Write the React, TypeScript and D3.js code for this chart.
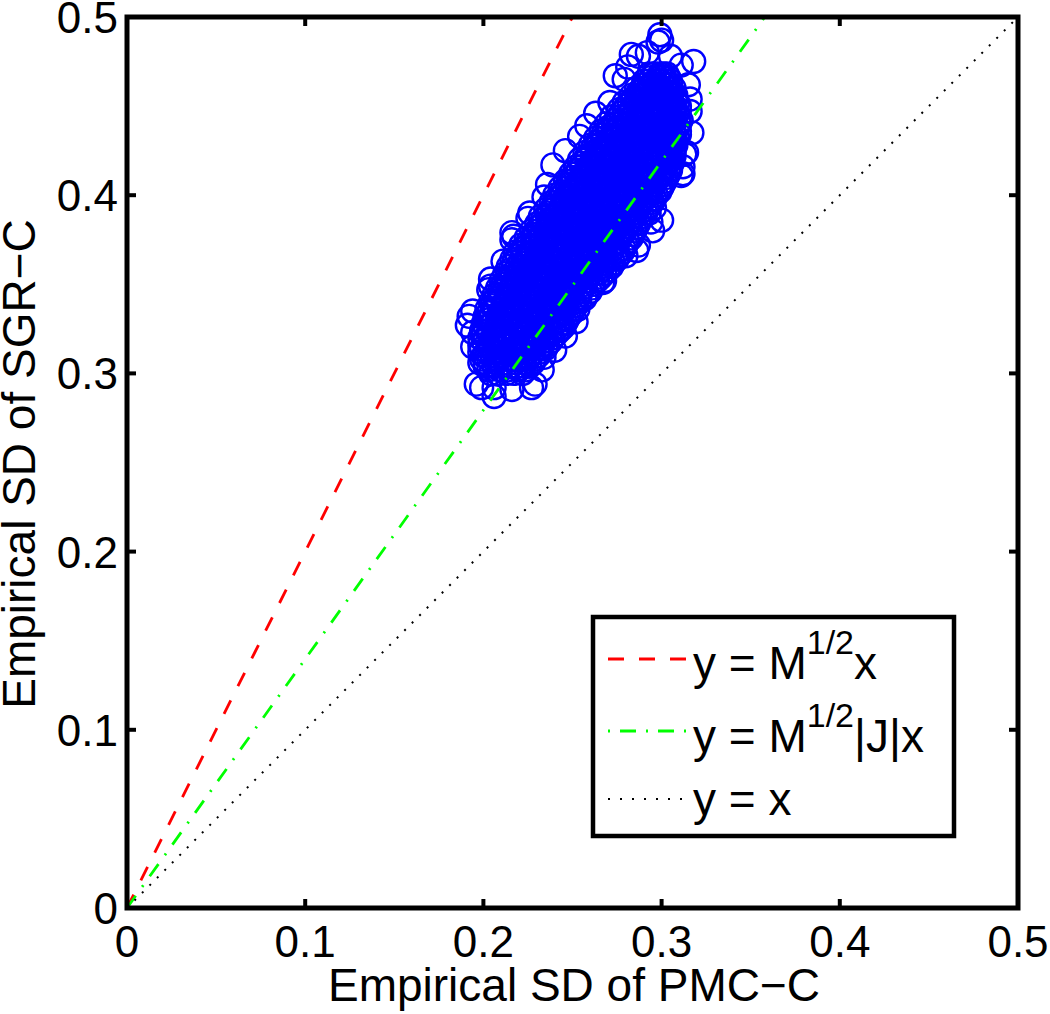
import React from "react";
import * as d3 from "d3";

const xTicks = [0, 0.1, 0.2, 0.3, 0.4, 0.5];
const yTicks = [0, 0.1, 0.2, 0.3, 0.4, 0.5];
const xLabel = "Empirical SD of PMC\u2212C";
const yLabel = "Empirical SD of SGR\u2212C";

const lineDomain = [0, 0.5];
const redSlope = 2.0;
const greenSlope = 1.397;
const blackSlope = 1.0;

// Outer, individually visible samples [PMC-C, SGR-C]
const edgePoints: [number, number][] = [
  [.299,.490],[.300,.487],[.298,.486],[.283,.479],[.287,.478],[.274,.467],[.281,.472],[.318,.475],[.311,.473],[.292,.480],[.305,.478],[.279,.465],
  [.271,.452],[.263,.446],[.258,.439],[.254,.433],[.246,.425],[.239,.417],[.236,.406],[.234,.399],[.226,.390],[.225,.387],[.217,.377],[.216,.375],
  [.211,.363],[.204,.353],[.204,.349],[.203,.347],[.194,.335],[.192,.332],[.191,.327],[.194,.323],[.194,.315],[.198,.306],[.196,.294],[.199,.292],
  [.206,.292],[.206,.287],[.315,.462],[.316,.454],[.316,.447],[.317,.435],[.314,.424],[.313,.423],[.312,.412],[.311,.411],[.299,.403],[.296,.393],
  [.294,.385],[.287,.372],[.286,.369],[.275,.365],[.268,.352],[.267,.351],[.253,.336],[.246,.321],[.234,.309],[.227,.292],[.216,.291],
  [.216,.379],[.312,.416],[.240,.313],[.229,.294],[.300,.386],[.295,.380],[.293,.390],[.280,.366],[.252,.329],[.233,.302],
];

// Dense core of the cloud, listed row by row: SGR-C of the row, then PMC-C of the samples in it
const coreRowY = [
  .300,.304,.308,.312,.316,.320,.324,.328,.332,.336,.340,.344,.348,.352,.356,.360,.364,.368,.372,.376,.380,.384,
  .388,.392,.396,.400,.404,.408,.412,.416,.420,.424,.428,.432,.436,.440,.444,.448,.452,.456,.460,.464,.468,
];
const coreRowX = [
  [.204,.208,.213,.217,.222],
  [.201,.206,.210,.215,.219,.223,.226],
  [.199,.203,.208,.212,.216,.221,.225,.229],
  [.198,.202,.206,.210,.215,.219,.224,.228,.232],
  [.198,.203,.207,.212,.216,.220,.225,.229,.233,.236],
  [.198,.201,.205,.209,.214,.218,.222,.227,.231,.235,.239],
  [.199,.203,.207,.212,.216,.220,.225,.229,.233,.238,.243],
  [.200,.205,.209,.213,.218,.222,.227,.231,.235,.240,.244,.246],
  [.201,.204,.208,.213,.217,.221,.226,.230,.234,.239,.243,.248],
  [.202,.206,.211,.215,.219,.224,.228,.232,.237,.241,.246,.251],
  [.204,.208,.212,.217,.221,.225,.230,.234,.238,.243,.247,.251,.254],
  [.206,.210,.215,.219,.223,.228,.232,.236,.241,.245,.249,.254,.258],
  [.208,.212,.216,.221,.225,.229,.234,.238,.243,.247,.251,.256,.261],
  [.210,.214,.219,.223,.227,.232,.236,.241,.245,.249,.254,.258,.264],
  [.212,.216,.220,.225,.229,.234,.238,.242,.247,.251,.255,.260,.264,.268],
  [.214,.219,.223,.227,.232,.236,.240,.245,.249,.253,.258,.262,.267,.272],
  [.216,.221,.225,.229,.234,.238,.243,.247,.251,.256,.260,.264,.269,.275],
  [.218,.222,.227,.231,.236,.240,.244,.249,.253,.258,.262,.266,.271,.275,.278],
  [.221,.225,.229,.234,.238,.242,.247,.251,.255,.260,.264,.269,.273,.280],
  [.224,.228,.232,.236,.241,.245,.249,.254,.258,.263,.267,.271,.276,.283],
  [.227,.231,.235,.239,.243,.248,.252,.256,.261,.265,.269,.274,.278,.285],
  [.230,.233,.237,.242,.246,.250,.255,.259,.263,.268,.272,.277,.281,.287],
  [.232,.236,.240,.244,.249,.253,.257,.262,.266,.270,.275,.279,.284,.289],
  [.235,.239,.243,.247,.252,.256,.260,.265,.269,.273,.278,.282,.286,.292],
  [.238,.241,.245,.250,.254,.258,.263,.267,.272,.276,.280,.285,.289,.295],
  [.240,.244,.248,.253,.257,.261,.266,.270,.274,.279,.283,.287,.292,.297],
  [.243,.247,.251,.255,.260,.264,.268,.273,.277,.281,.286,.290,.295,.300],
  [.246,.250,.254,.258,.263,.267,.271,.276,.280,.284,.289,.293,.297,.302],
  [.249,.252,.256,.261,.265,.269,.274,.278,.283,.287,.291,.296,.300,.304],
  [.252,.255,.259,.264,.268,.272,.277,.281,.285,.290,.294,.298,.302,.305],
  [.254,.258,.262,.266,.271,.275,.279,.284,.288,.292,.297,.301,.306],
  [.257,.261,.265,.269,.274,.278,.282,.287,.291,.295,.300,.304,.307],
  [.260,.264,.268,.272,.277,.281,.285,.290,.294,.298,.302,.305,.308],
  [.263,.267,.271,.275,.280,.284,.288,.293,.297,.301,.305,.309],
  [.266,.270,.274,.278,.283,.287,.291,.296,.300,.304,.307,.310],
  [.269,.273,.277,.281,.286,.290,.294,.299,.303,.306,.310],
  [.272,.276,.280,.284,.289,.293,.297,.301,.305,.308,.310],
  [.276,.279,.283,.287,.292,.296,.300,.304,.307,.310],
  [.279,.282,.286,.291,.295,.299,.303,.306,.309],
  [.283,.286,.290,.294,.298,.302,.305,.308],
  [.286,.289,.293,.297,.300,.304,.307],
  [.290,.293,.296,.300,.303,.305],
  [.293,.296,.299,.301,.303],
];

// Samples read between those rows
const midRowY = [
  .302,.306,.310,.314,.318,.322,.326,.330,.334,.338,.342,.346,.350,.354,.358,.362,.366,.370,.374,.378,.382,
  .386,.390,.394,.398,.402,.406,.410,.414,.418,.422,.426,.430,.434,.438,.442,.446,.450,.454,.458,.462,.466,
];
const midRowX = [
  [.203,.209,.214,.220,.224],
  [.201,.207,.212,.218,.223,.228],
  [.200,.205,.211,.217,.222,.227,.231],
  [.199,.204,.210,.216,.221,.227,.232,.235],
  [.200,.206,.211,.217,.223,.228,.234,.238],
  [.200,.206,.212,.218,.223,.229,.235,.241],
  [.201,.207,.213,.219,.224,.230,.236,.242,.245],
  [.202,.208,.214,.220,.225,.231,.237,.243,.247],
  [.203,.209,.215,.220,.226,.232,.238,.244,.250],
  [.205,.211,.216,.222,.228,.234,.240,.245,.252],
  [.207,.213,.218,.224,.230,.236,.242,.247,.253,.257],
  [.209,.214,.220,.226,.232,.238,.243,.249,.255,.260],
  [.211,.216,.222,.228,.234,.239,.245,.251,.257,.262],
  [.213,.218,.224,.230,.235,.241,.247,.253,.259,.266],
  [.215,.220,.226,.232,.237,.243,.249,.255,.261,.266,.270],
  [.217,.222,.228,.234,.240,.246,.251,.257,.263,.268,.273],
  [.219,.225,.230,.236,.242,.248,.254,.259,.265,.271,.276],
  [.222,.227,.233,.239,.245,.250,.256,.262,.267,.273,.279],
  [.225,.230,.236,.242,.247,.253,.259,.264,.270,.276,.281],
  [.228,.233,.239,.245,.250,.256,.261,.267,.273,.278,.284],
  [.231,.236,.241,.247,.253,.258,.264,.270,.275,.281,.286],
  [.233,.239,.244,.250,.255,.261,.267,.272,.278,.283,.288],
  [.236,.241,.247,.253,.258,.264,.269,.275,.281,.286,.291],
  [.239,.244,.250,.255,.261,.266,.272,.278,.283,.288,.293],
  [.241,.247,.252,.258,.264,.269,.275,.280,.286,.291,.296],
  [.244,.250,.255,.261,.266,.272,.278,.283,.289,.294,.299],
  [.247,.252,.258,.264,.269,.275,.280,.286,.291,.296,.301],
  [.250,.255,.261,.266,.272,.278,.283,.289,.294,.299,.303],
  [.253,.258,.264,.269,.275,.280,.286,.291,.296,.301,.305],
  [.255,.261,.266,.272,.278,.283,.288,.294,.299,.303,.306],
  [.258,.264,.269,.275,.280,.286,.291,.296,.301,.305,.307],
  [.261,.267,.272,.278,.283,.288,.294,.299,.303,.307],
  [.264,.270,.275,.280,.286,.291,.296,.301,.305,.308],
  [.267,.273,.278,.283,.289,.294,.299,.303,.307,.310],
  [.270,.275,.281,.286,.291,.296,.301,.305,.309],
  [.274,.279,.284,.289,.294,.299,.303,.307,.311],
  [.277,.282,.287,.292,.297,.301,.305,.309],
  [.280,.285,.290,.295,.299,.303,.307,.310],
  [.284,.288,.293,.297,.301,.305,.308],
  [.287,.291,.295,.299,.303,.306],
  [.290,.294,.298,.302,.305],
  [.294,.298,.301,.304],
];

const legendLabels = [
  { base: "y = M", sup: "1/2", tail: "x" },
  { base: "y = M", sup: "1/2", tail: "|J|x" },
  { base: "y = x", sup: "", tail: "" },
];

const W = 1050;
const H = 1014;
const FONT = "'Liberation Sans', Arial, sans-serif";
const x = d3.scaleLinear().domain([0, 0.5]).range([127, 1018]);
const y = d3.scaleLinear().domain([0, 0.5]).range([908, 17]);

const fmt = (v: number) => (v === 0 ? "0" : String(v));

const rowsToPoints = (ys: number[], xs: number[][]) =>
  ys.flatMap((ry, i) => xs[i].map((rx) => [rx, ry] as [number, number]));
const cloud = [
  ...rowsToPoints(coreRowY, coreRowX),
  ...rowsToPoints(midRowY, midRowX),
  ...edgePoints,
];

const lineFor = (slope: number) =>
  d3
    .line<number>()
    .x((d) => x(d))
    .y((d) => y(slope * d))(lineDomain.map((d) => Math.min(d, 0.5 / slope)));

const lineStyles = [
  { slope: redSlope, color: "#ff0000", dash: "15 16", width: 2.8 },
  { slope: greenSlope, color: "#00ff00", dash: "15 11 2 11", width: 2.8 },
  { slope: blackSlope, color: "#000000", dash: "2 8.6", width: 2 },
];

const legendLeft = 593;
const legendTop = 617;
const legendRight = 954;
const legendBottom = 836;
const legendLineY = [659, 731, 799];
const legendBase = [679, 752, 815];

export default function App() {
  return (
    <svg
      width={W}
      height={H}
      viewBox={`0 0 ${W} ${H}`}
      style={{ position: "absolute", left: 0, top: 0, display: "block", background: "#fff" }}
      fontFamily={FONT}
    >
      <g fill="none" stroke="#0000ff" strokeWidth={2.4}>
        {cloud.map((d, i) => (
          <circle key={i} cx={x(d[0])} cy={y(d[1])} r={11.5} />
        ))}
      </g>

      {lineStyles.map((l) => (
        <path
          key={l.color}
          d={lineFor(l.slope) ?? ""}
          fill="none"
          stroke={l.color}
          strokeWidth={l.width}
          strokeDasharray={l.dash}
        />
      ))}

      <g stroke="#000" strokeWidth={4} fill="none">
        {xTicks.slice(1, -1).map((t) => (
          <g key={t}>
            <line x1={x(t)} x2={x(t)} y1={y(0)} y2={y(0) - 9} />
            <line x1={x(t)} x2={x(t)} y1={y(0.5)} y2={y(0.5) + 9} />
          </g>
        ))}
        {yTicks.slice(1, -1).map((t) => (
          <g key={t}>
            <line y1={y(t)} y2={y(t)} x1={x(0)} x2={x(0) + 9} />
            <line y1={y(t)} y2={y(t)} x1={x(0.5)} x2={x(0.5) - 9} />
          </g>
        ))}
      </g>
      <rect
        x={x(0)}
        y={y(0.5)}
        width={x(0.5) - x(0)}
        height={y(0) - y(0.5)}
        fill="none"
        stroke="#000"
        strokeWidth={5}
      />

      <g fontSize={44} fill="#000">
        {xTicks.map((t) => (
          <text key={t} x={x(t)} y={957} textAnchor="middle">
            {fmt(t)}
          </text>
        ))}
        {yTicks.map((t) => (
          <text key={t} x={118} y={y(t) + 16} textAnchor="end">
            {fmt(t)}
          </text>
        ))}
      </g>
      <text x={574} y={1001} fontSize={46} textAnchor="middle" fill="#000">
        {xLabel}
      </text>
      <text
        transform="translate(35,464) rotate(-90)"
        fontSize={46}
        textAnchor="middle"
        fill="#000"
      >
        {yLabel}
      </text>

      <rect
        x={legendLeft}
        y={legendTop}
        width={legendRight - legendLeft}
        height={legendBottom - legendTop}
        fill="#fff"
        stroke="#000"
        strokeWidth={4.5}
      />
      {lineStyles.map((l, i) => (
        <line
          key={l.color}
          x1={608}
          x2={686}
          y1={legendLineY[i]}
          y2={legendLineY[i]}
          stroke={l.color}
          strokeWidth={l.width}
          strokeDasharray={i === 0 ? "16 15" : i === 1 ? "2 10 16 10" : "2 10"}
        />
      ))}
      {legendLabels.map((l, i) => (
        <text key={i} x={693} y={legendBase[i]} fontSize={46} fill="#000">
          {l.base}
          {l.sup && (
            <tspan dy={-25} fontSize={34}>
              {l.sup}
            </tspan>
          )}
          {l.tail && <tspan dy={25}>{l.tail}</tspan>}
        </text>
      ))}
    </svg>
  );
}
